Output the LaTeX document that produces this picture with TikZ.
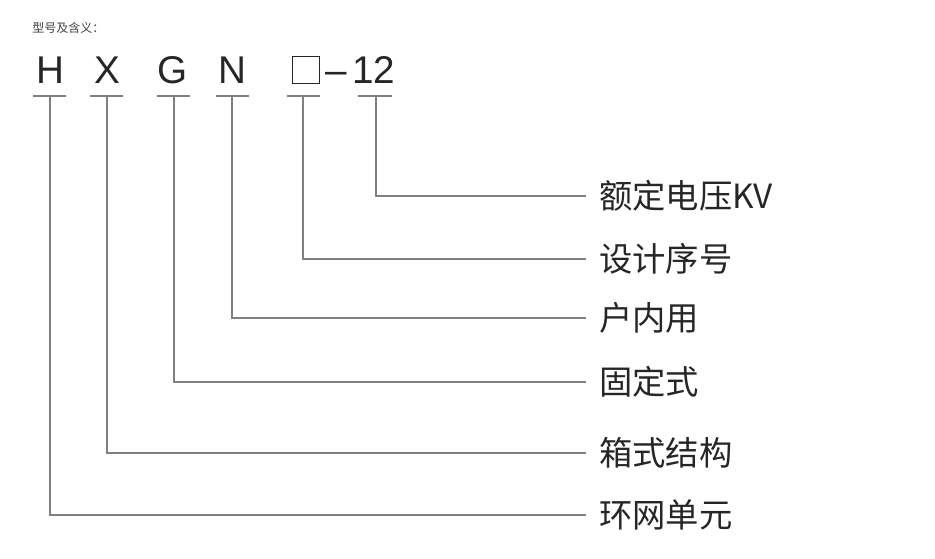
\documentclass[tikz,border=0pt]{standalone}
\usepackage{fontspec}
\setmainfont{Liberation Sans}
\newfontfamily\cjk{Noto Sans CJK SC}
\begin{document}
\begin{tikzpicture}[x=0.75pt,y=-0.75pt,
  lt/.style={font=\fontsize{29}{29}\selectfont, text=black!85, inner sep=0, anchor=base},
  lb/.style={font=\cjk\fontsize{25}{25}\selectfont, text=black!85, anchor=west, inner sep=0},
  ln/.style={draw=black!50, line width=0.9pt}]
\useasboundingbox (0,0) rectangle (935,558);
\node[font=\cjk\fontsize{9}{9}\selectfont, text=black!75, anchor=west, inner sep=0] (t) at (32,28) {型号及含义：};
\node[lt] (H) at (50,83) {H};
\node[lt] (X) at (107,83) {X};
\node[lt] (G) at (173,83) {G};
\node[lt] (N) at (232,83) {N};
\node[draw=black!85, line width=1pt, minimum size=20pt, inner sep=0] (B) at (306,70) {};
\node[lt] (D) at (336,83) {–};
\node[lt] (T) at (374,83) {12};
\foreach \n/\a/\b/\c/\y/\txt in {H/33/66/50/515/环网单元, X/90/123/107/453/箱式结构, G/157/190/174/382/固定式, N/216/249/232/318/户内用, B/287/320/303/259/设计序号, T/358/392/376/196/额定电压KV}{
  \coordinate (u\n1) at (\a,96); \coordinate (u\n2) at (\b,96);
  \coordinate (m\n) at (\c,96); \coordinate (k\n) at (\c,\y);
  \node[lb] (l\n) at (599,\y) {\txt};
  \draw[ln] (u\n1) -- (u\n2);
  \draw[ln] (m\n) -- (k\n) -- (l\n.west -| 586,0);
}
\end{tikzpicture}
\end{document}
